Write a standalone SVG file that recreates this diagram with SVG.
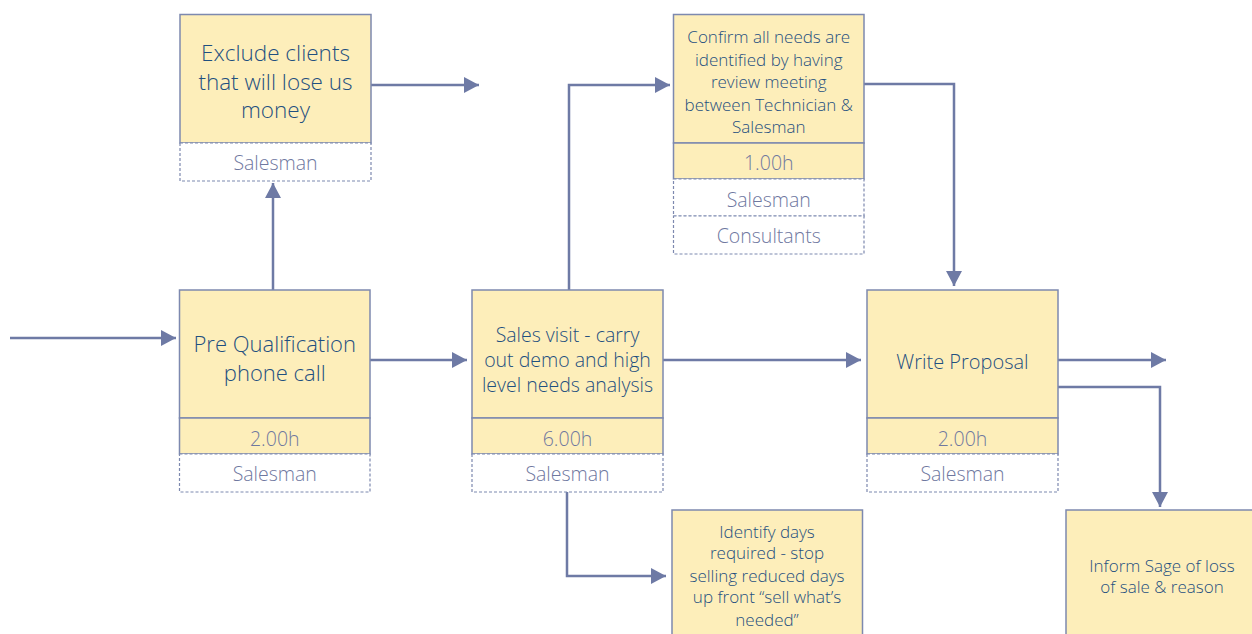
<svg xmlns="http://www.w3.org/2000/svg" width="1252" height="634" viewBox="0 0 1252 634">
<style>
.main{fill:#FDEEBA;stroke:#7D89AF;stroke-width:1.5}
.dot{fill:#FFFFFF;stroke:#7D89AF;stroke-width:1.2;stroke-dasharray:3 2}
.t{font-family:"Open Sans","Liberation Sans",sans-serif;font-weight:300;fill:#1F5080;text-anchor:middle}
.s{font-family:"Open Sans","Liberation Sans",sans-serif;font-weight:300;fill:#6F789F;text-anchor:middle;font-size:19.5px}
.c{fill:none;stroke:#6E7AA5;stroke-width:2.5}
</style>
<defs>
<marker id="ah" markerUnits="userSpaceOnUse" markerWidth="15" markerHeight="16" refX="15" refY="8" orient="auto">
<path d="M0,0 L15,8 L0,16 z" fill="#6E7AA5"/>
</marker>
</defs>
<g id="connectors">
<path class="c" d="M10,338 H176" marker-end="url(#ah)"/>
<path class="c" d="M370,360 H467" marker-end="url(#ah)"/>
<path class="c" d="M273,290 V183" marker-end="url(#ah)"/>
<path class="c" d="M371,85 H479" marker-end="url(#ah)"/>
<path class="c" d="M569,290 V85 H670" marker-end="url(#ah)"/>
<path class="c" d="M663,360 H861" marker-end="url(#ah)"/>
<path class="c" d="M567,492 V576 H666" marker-end="url(#ah)"/>
<path class="c" d="M864,84 H954 V286" marker-end="url(#ah)"/>
<path class="c" d="M1058,360 H1166" marker-end="url(#ah)"/>
<path class="c" d="M1058,387 H1160 V507" marker-end="url(#ah)"/>
</g>
<g id="exclude">
<rect class="main" x="180" y="14.5" width="191" height="128.5"/>
<rect class="dot" x="180" y="143" width="191" height="38"/>
<text class="t" font-size="22.5" x="275.5" y="61">Exclude clients</text>
<text class="t" font-size="22.5" x="275.5" y="90">that will lose us</text>
<text class="t" font-size="22.5" x="275.5" y="118">money</text>
<text class="s" x="275.5" y="170">Salesman</text>
</g>
<g id="confirm">
<rect class="main" x="673.5" y="14.5" width="190.5" height="128.5"/>
<rect class="main" x="673.5" y="143" width="190.5" height="36"/>
<rect class="dot" x="673.5" y="179" width="190.5" height="37"/>
<rect class="dot" x="673.5" y="216" width="190.5" height="38"/>
<text class="t" font-size="17" x="768.75" y="43">Confirm all needs are</text>
<text class="t" font-size="17" x="768.75" y="66">identified by having</text>
<text class="t" font-size="17" x="768.75" y="88">review meeting</text>
<text class="t" font-size="17" x="768.75" y="111">between Technician &amp;</text>
<text class="t" font-size="17" x="768.75" y="133">Salesman</text>
<text class="s" x="768.75" y="170">1.00h</text>
<text class="s" x="768.75" y="207">Salesman</text>
<text class="s" x="768.75" y="243">Consultants</text>
</g>
<g id="prequal">
<rect class="main" x="179.5" y="290" width="190.5" height="128"/>
<rect class="main" x="179.5" y="418" width="190.5" height="36"/>
<rect class="dot" x="179.5" y="454" width="190.5" height="38"/>
<text class="t" font-size="22" x="274.75" y="352">Pre Qualification</text>
<text class="t" font-size="22" x="274.75" y="381">phone call</text>
<text class="s" x="274.75" y="446">2.00h</text>
<text class="s" x="274.75" y="481">Salesman</text>
</g>
<g id="salesvisit">
<rect class="main" x="472" y="290" width="191" height="128"/>
<rect class="main" x="472" y="418" width="191" height="36"/>
<rect class="dot" x="472" y="454" width="191" height="38"/>
<text class="t" font-size="19.5" x="567.5" y="342">Sales visit - carry</text>
<text class="t" font-size="19.5" x="567.5" y="367">out demo and high</text>
<text class="t" font-size="19.5" x="567.5" y="392">level needs analysis</text>
<text class="s" x="567.5" y="446">6.00h</text>
<text class="s" x="567.5" y="481">Salesman</text>
</g>
<g id="proposal">
<rect class="main" x="867" y="290" width="191" height="128"/>
<rect class="main" x="867" y="418" width="191" height="36"/>
<rect class="dot" x="867" y="454" width="191" height="38"/>
<text class="t" font-size="20" x="962.5" y="369">Write Proposal</text>
<text class="s" x="962.5" y="446">2.00h</text>
<text class="s" x="962.5" y="481">Salesman</text>
</g>
<g id="identify">
<rect class="main" x="672" y="510" width="190.5" height="140"/>
<text class="t" font-size="17" x="767" y="538">Identify days</text>
<text class="t" font-size="17" x="767" y="559">required - stop</text>
<text class="t" font-size="17" x="767" y="582">selling reduced days</text>
<text class="t" font-size="17" x="767" y="603">up front “sell what’s</text>
<text class="t" font-size="17" x="767" y="626">needed”</text>
</g>
<g id="inform">
<rect class="main" x="1066" y="510" width="200" height="140"/>
<text class="t" font-size="17" x="1162" y="572">Inform Sage of loss</text>
<text class="t" font-size="17" x="1162" y="593">of sale &amp; reason</text>
</g>
</svg>
